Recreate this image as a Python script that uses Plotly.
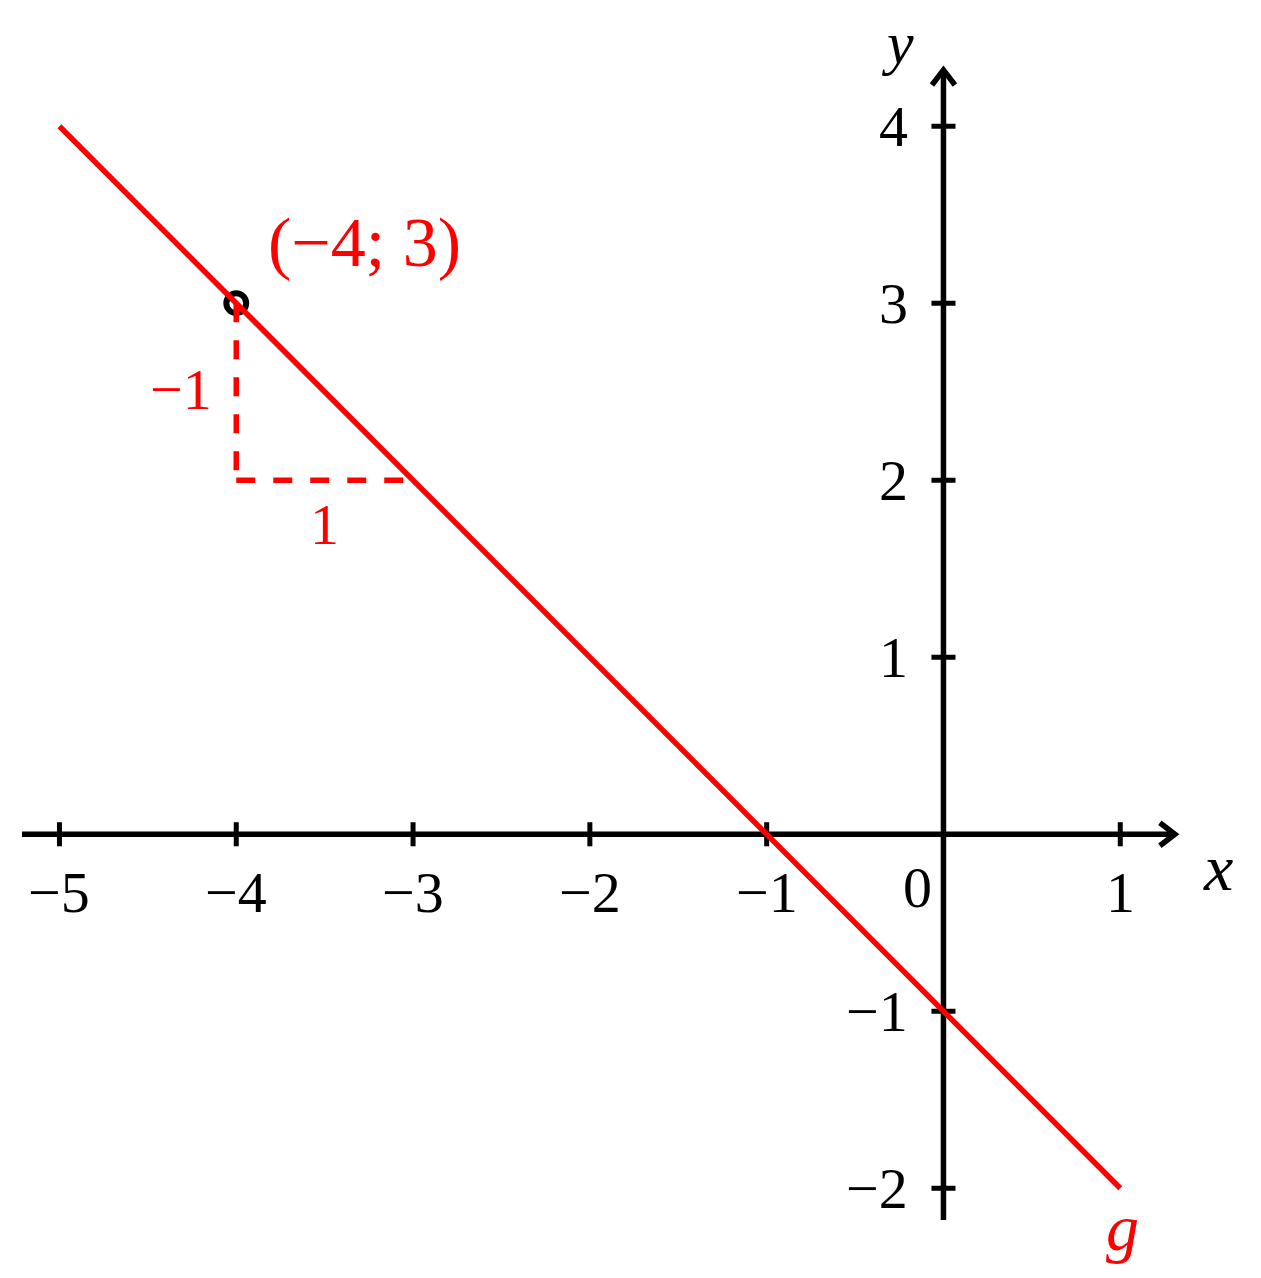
import plotly.graph_objects as go

# ---- data ----
x_ticks = [-5, -4, -3, -2, -1, 1]
y_ticks = [-2, -1, 1, 2, 3, 4]
line_x = [-5, 1]
line_y = [4, -2]          # g: y = -x - 1
point_x = [-4]
point_y = [3]
tri_vert_x = [-4, -4]
tri_vert_y = [3, 2]
tri_horz_x = [-4, -3]
tri_horz_y = [2, 2]

FONT = "Liberation Serif"
RED = "#ff0000"
BLACK = "#000000"

fig = go.Figure()

# axes lines
AX_W = 5.5
fig.add_trace(go.Scatter(x=[-5.212, 1.309], y=[0, 0], mode="lines",
                         line=dict(color=BLACK, width=AX_W), hoverinfo="skip", showlegend=False))
fig.add_trace(go.Scatter(x=[0, 0], y=[-2.179, 4.318], mode="lines",
                         line=dict(color=BLACK, width=AX_W), hoverinfo="skip", showlegend=False))
# arrow heads
fig.add_trace(go.Scatter(x=[1.309 - 0.085, 1.309, 1.309 - 0.085], y=[0.065, 0, -0.065], mode="lines",
                         line=dict(color=BLACK, width=AX_W), hoverinfo="skip", showlegend=False))
fig.add_trace(go.Scatter(x=[-0.065, 0, 0.065], y=[4.318 - 0.085, 4.318, 4.318 - 0.085], mode="lines",
                         line=dict(color=BLACK, width=AX_W), hoverinfo="skip", showlegend=False))

# ticks
T = 0.068
tx, ty = [], []
for v in x_ticks:
    tx += [v, v, None]
    ty += [-T, T, None]
for v in y_ticks:
    tx += [-T, T, None]
    ty += [v, v, None]
fig.add_trace(go.Scatter(x=tx, y=ty, mode="lines", line=dict(color=BLACK, width=5),
                         hoverinfo="skip", showlegend=False))

# point marker (ring drawn below the red line)
R = 0.056
shapes = [dict(type="circle", xref="x", yref="y", layer="below",
               x0=point_x[0] - R, x1=point_x[0] + R, y0=point_y[0] - R, y1=point_y[0] + R,
               line=dict(color=BLACK, width=6), fillcolor="rgba(0,0,0,0)")]

# line g
fig.add_trace(go.Scatter(x=line_x, y=line_y, mode="lines", line=dict(color=RED, width=5.5),
                         showlegend=False))

# slope triangle
fig.add_trace(go.Scatter(x=tri_vert_x, y=tri_vert_y, mode="lines",
                         line=dict(color=RED, width=5.5, dash="19px,18px"), showlegend=False))
fig.add_trace(go.Scatter(x=tri_horz_x, y=tri_horz_y, mode="lines",
                         line=dict(color=RED, width=5.5, dash="19px,18px"), showlegend=False))

ann = []
TICK_SIZE = 58
for v in x_ticks:
    ann.append(dict(x=v, y=0, text=f"−{abs(v)}" if v < 0 else str(v), showarrow=False,
                    xanchor="center", yanchor="middle", yshift=-58,
                    font=dict(family=FONT, size=TICK_SIZE, color=BLACK)))
for v in y_ticks:
    ann.append(dict(x=0, y=v, text=f"−{abs(v)}" if v < 0 else str(v), showarrow=False,
                    xanchor="right", yanchor="middle", xshift=-33,
                    font=dict(family=FONT, size=TICK_SIZE, color=BLACK)))
ann.append(dict(x=0, y=0, text="0", showarrow=False, xanchor="right", yanchor="middle",
                xshift=-9, yshift=-53, font=dict(family=FONT, size=TICK_SIZE, color=BLACK)))

# axis names
ann.append(dict(x=1.553, y=0, text="<i>x</i>", showarrow=False, xanchor="center", yanchor="middle",
                yshift=-33, font=dict(family=FONT, size=66, color=BLACK)))
ann.append(dict(x=-0.26, xref="x", y=1, yref="paper", text="<i>y</i>", showarrow=False,
                xanchor="center", yanchor="top", font=dict(family=FONT, size=60, color=BLACK)))
ann.append(dict(x=1.01, y=-2.224, text="<i>g</i>", showarrow=False, xanchor="center", yanchor="middle",
                font=dict(family=FONT, size=66, color=RED)))

# point label and triangle labels
ann.append(dict(x=point_x[0], y=point_y[0], text="(−4; 3)", showarrow=False, xanchor="left",
                yanchor="middle", xshift=30, yshift=61, font=dict(family=FONT, size=70, color=RED)))
ann.append(dict(x=-4, y=2.5, text="−1", showarrow=False, xanchor="right", yanchor="middle",
                xshift=-22, yshift=2, font=dict(family=FONT, size=TICK_SIZE, color=RED)))
ann.append(dict(x=-3.5, y=2, text="1", showarrow=False, xanchor="center", yanchor="middle",
                yshift=-44, font=dict(family=FONT, size=TICK_SIZE, color=RED)))

# page body has an 8px default margin; ranges are set so marks land at the reference pixels
fig.update_layout(
    width=1253, height=1270,
    margin=dict(l=0, r=0, t=0, b=0),
    paper_bgcolor="white", plot_bgcolor="white",
    xaxis=dict(range=[-5.291, 1.796], visible=False, fixedrange=True),
    yaxis=dict(range=[-2.507, 4.668], visible=False, fixedrange=True),
    annotations=ann,
    shapes=shapes,
    showlegend=False,
)

fig.write_html("out.html")
